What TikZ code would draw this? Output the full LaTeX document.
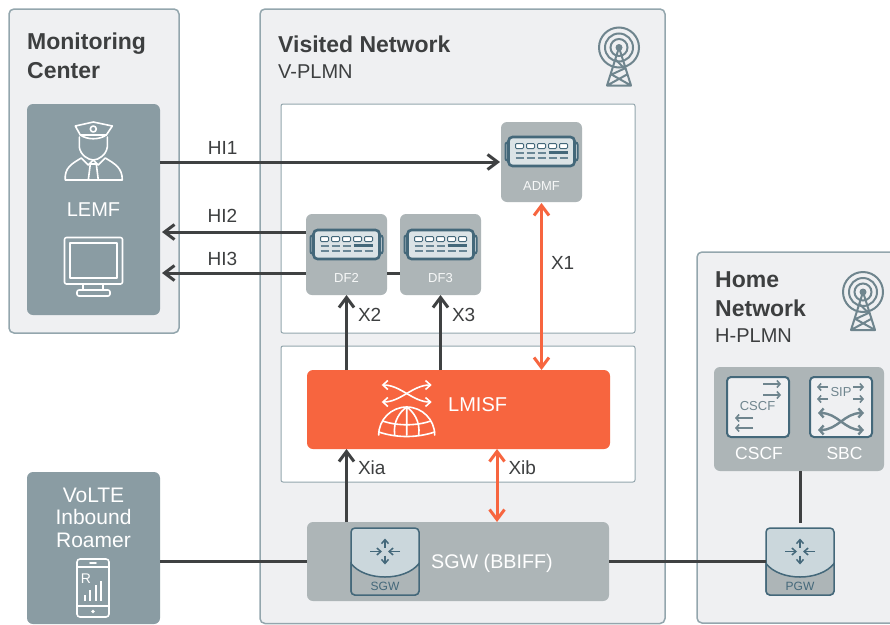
\documentclass[tikz,border=0pt]{standalone}
\usepackage{fontspec}
\setmainfont{Liberation Sans}
\usetikzlibrary{arrows.meta, positioning, calc}

\definecolor{panelgray}{HTML}{EFF0F2}
\definecolor{edgegray}{HTML}{93A6AD}
\definecolor{slategray}{HTML}{8A9CA3}
\definecolor{boxgray}{HTML}{ADB5B7}
\definecolor{linkdark}{HTML}{3F4142}
\definecolor{linkred}{HTML}{F7653F}
\definecolor{icondark}{HTML}{44687A}
\definecolor{iconlight}{HTML}{CBD7DC}
\definecolor{textdark}{HTML}{3D3F40}
\definecolor{towergray}{HTML}{6F858E}

\begin{document}
\begin{tikzpicture}[
  x=1pt, y=-1pt,
  panel/.style  = {draw=edgegray, line width=1.5pt, fill=panelgray, rounded corners=5pt, inner sep=0pt, outer sep=0pt},
  inbox/.style  = {draw=edgegray, line width=1pt, fill=white, rounded corners=2pt, inner sep=0pt, outer sep=0pt},
  block/.style  = {rounded corners=6pt, inner sep=0pt, outer sep=0pt, text=white, align=center},
  head/.style   = {font=\fontsize{23}{29}\selectfont\bfseries, text=textdark, align=left, inner sep=0pt, anchor=north west},
  subhead/.style= {font=\fontsize{20}{22}\selectfont, text=textdark, inner sep=0pt, anchor=north west},
  lbl/.style    = {font=\fontsize{19}{22}\selectfont, text=textdark, inner sep=0pt},
  whitelbl/.style = {font=\fontsize{20}{22.5}\selectfont, text=white, inner sep=0pt, align=center},
  tiny/.style   = {font=\fontsize{13}{15}\selectfont, text=white!90!boxgray, inner sep=0pt},
  link/.style   = {line width=3pt, draw=linkdark},
  arrow/.style  = {link, -{Straight Barb[length=10pt,width=15pt]}},
  redarrow/.style = {line width=3pt, draw=linkred, {Straight Barb[length=10pt,width=15pt]}-{Straight Barb[length=10pt,width=15pt]}},
  thin white/.style = {draw=white, line width=1.6pt, line join=round, line cap=round},
  pics/tower/.style = {code={
    \draw[towergray, line width=2pt] (0,0) circle[radius=20] (0,0) circle[radius=14] (0,0) circle[radius=8.5];
    \fill[towergray] (0,0) circle[radius=3.5];
    \draw[towergray, line width=2pt, line join=round] (0,0) -- (-12,38) -- (12,38) -- cycle
      (-3.5,12) -- (5.5,21) -- (-7.5,27) -- (12,38) (-12,38) -- (8,27);
  }},
  pics/server/.style = {code={
    \draw[icondark, line width=2pt, fill=panelgray, rounded corners=2pt] (-36,-9) rectangle (36,9);
    \draw[icondark, line width=2.6pt, fill=iconlight!70!white, rounded corners=4pt] (-33,-14.5) rectangle (33,14.5);
    \foreach \i in {-22,-11,0,11,22} {
      \draw[icondark, line width=1pt, fill=white, rounded corners=1pt] (\i-4,-8) rectangle (\i+4,-3);
      \draw[icondark!80!white, line width=2pt] (\i-4,1) -- (\i+4,1) (\i-4,6.5) -- (\i+4,6.5);
    }
    \draw[icondark, line width=2.2pt] (7,1) -- (26,1);
  }},
  pics/gateway/.style = {code={
    \draw[icondark, line width=1.5pt, fill=iconlight, rounded corners=4pt] (-34,-33.5) rectangle (34,33.5);
    \draw[icondark, line width=1.5pt, fill=boxgray] (-34,2) .. controls (-20,20) and (20,20) .. (34,2)
      [rounded corners=4pt] -- (34,33.5) -- (-34,33.5) [sharp corners] -- cycle;
    \draw[icondark, line width=1.5pt, -{Straight Barb[length=4pt,width=7pt]}] (0,-14) -- (0,-23);
    \draw[icondark, line width=1.5pt, -{Straight Barb[length=4pt,width=7pt]}] (0,-6) -- (0,3);
    \draw[icondark, line width=1.5pt, -{Straight Barb[length=4pt,width=7pt]}] (-15,-10) -- (-3,-10);
    \draw[icondark, line width=1.5pt, -{Straight Barb[length=4pt,width=7pt]}] (15,-10) -- (3,-10);
    \node[font=\fontsize{12}{14}\selectfont, text=icondark, inner sep=0pt] at (0,25) {#1};
  }}
]
  \clip (0,0) rectangle (890,624);

  % Monitoring center side
  \node[panel, minimum width=170pt, minimum height=324pt] (monitor) at (94,171) {};
  \node[head] (monitortitle) at (27,32.5) {Monitoring\\Center};
  \node[block, fill=slategray, minimum width=133pt, minimum height=211pt] (lemf) at (93.5,209.5) {};
  \node[whitelbl] (lemflabel) at (93.5,210) {LEMF};

  % officer icon
  \begin{scope}[shift={(93.3,150)}]
    \draw[thin white] (-18,-24) -- (0,-28) -- (19,-24) -- (13,-15) -- (-13,-15) -- cycle;
    \draw[thin white] (-13,-15) .. controls (-6,-10) and (6,-10) .. (13,-15);
    \draw[thin white] (0,-21) circle[radius=3];
    \draw[thin white] (-14,-13) -- (-14,-3) .. controls (-13,5) and (-5,10) .. (0,10) .. controls (5,10) and (13,5) .. (14,-3) -- (14,-13);
    \draw[thin white] (-28,30) .. controls (-29,18) and (-22,14) .. (-12,8) -- (-5,15) -- (0,10) -- (5,15) -- (12,8) .. controls (22,14) and (29,18) .. (29,30) -- cycle;
    \draw[thin white] (-3,14) -- (-5,30) (3,14) -- (5,30) (-3,14) -- (3,14);
  \end{scope}

  % monitor icon
  \draw[thin white, rounded corners=2pt] (64.5,237.5) rectangle (122.5,284);
  \draw[thin white] (70,243) rectangle (117,278);
  \draw[thin white] (83,284) -- (83,290) (103,284) -- (103,290);
  \draw[thin white, rounded corners=2pt] (77,290) rectangle (110,296);

  % Roamer box
  \node[block, fill=slategray, minimum width=133pt, minimum height=152pt] (roamer) at (93.5,548) {};
  \node[whitelbl, font=\fontsize{21}{22.5}\selectfont] (roamerlabel) at (93.5,517.5) {VoLTE\\Inbound\\Roamer};
  \draw[thin white, rounded corners=3pt] (77,559) rectangle (109,617);
  \draw[thin white] (77,567) -- (109,567) (77,606) -- (109,606) (90,563) -- (96,563);
  \fill[white] (93,611.5) circle[radius=1.8];
  \node[font=\fontsize{14}{16}\selectfont, text=white, inner sep=0pt] (roamerR) at (86,579) {R};
  \draw[white, line width=1.5pt] (85,601) -- (85,595) (90,601) -- (90,590) (96,601) -- (96,585) (101,601) -- (101,581);

  % Visited network
  \node[panel, minimum width=405pt, minimum height=614.5pt] (visited) at (462.5,316.25) {};
  \node[head] (visitedtitle) at (278,36) {Visited Network};
  \node[subhead] (visitedsub) at (278,64.5) {V-PLMN};
  \pic at (619,47.5) {tower};
  \node[inbox, minimum width=354pt, minimum height=229pt] (lawful) at (458,218.5) {};
  \node[inbox, minimum width=354pt, minimum height=136pt] (core) at (458,414) {};

  % Functions
  \node[block, fill=boxgray, minimum width=81pt, minimum height=80pt] (admf) at (541.5,162) {};
  \pic at (541.5,151.5) {server};
  \node[tiny] (admflabel) at (541.5,186) {ADMF};
  \node[block, fill=boxgray, minimum width=81pt, minimum height=81pt] (df2) at (346.5,254.5) {};
  \pic at (346.5,244.5) {server};
  \node[tiny] (df2label) at (346.5,278) {DF2};
  \node[block, fill=boxgray, minimum width=81pt, minimum height=81pt, right=13pt of df2] (df3) {};
  \pic at (440.5,244.5) {server};
  \node[tiny] (df3label) at (440.5,278) {DF3};

  % LMISF
  \node[block, fill=linkred, minimum width=303pt, minimum height=79pt] (lmisf) at (458.5,409.5) {};
  \node[whitelbl, anchor=west] (lmisflabel) at (448,404.5) {LMISF};
  \begin{scope}[shift={(406.7,435)}]
    \draw[thin white] (-28,0) arc[start angle=180, end angle=360, radius=28];
    \draw[thin white] (0,-28) -- (0,0) (-12,0) .. controls (-14,-14) and (-6,-24) .. (0,-28) .. controls (6,-24) and (14,-14) .. (12,0);
    \draw[thin white] (-24,-14) .. controls (-10,-9) and (10,-9) .. (24,-14) (-28,-3) .. controls (-10,3) and (10,3) .. (28,-3);
    \draw[thin white, {Straight Barb[length=5pt,width=9pt]}-{Straight Barb[length=5pt,width=9pt]}] (-25,-50) .. controls (-6,-50) and (6,-33) .. (25,-33);
    \draw[thin white, {Straight Barb[length=5pt,width=9pt]}-{Straight Barb[length=5pt,width=9pt]}] (-25,-33) .. controls (-6,-33) and (6,-50) .. (25,-50);
  \end{scope}

  % SGW
  \node[block, fill=boxgray, minimum width=302pt, minimum height=79pt] (sgw) at (458,561.5) {};
  \pic at (385,561.5) {gateway=SGW};
  \node[whitelbl, anchor=west, font=\fontsize{19.7}{22}\selectfont] (sgwlabel) at (431,563) {SGW (BBIFF)};

  % Home network
  \node[panel, minimum width=220pt, minimum height=371pt] (home) at (807,437.5) {};
  \node[head] (hometitle) at (715,271.5) {Home\\Network};
  \node[subhead] (homesub) at (715,328.5) {H-PLMN};
  \pic at (863,292) {tower};
  \node[block, fill=boxgray, minimum width=170pt, minimum height=104pt] (ims) at (799,419) {};

  % CSCF icon
  \node[draw=icondark, line width=2pt, fill=panelgray, rounded corners=4pt, minimum width=62pt, minimum height=60pt, inner sep=0pt] (cscf) at (758,407) {};
  \foreach \y in {384,395} \draw[towergray, line width=1.6pt, -{Straight Barb[length=3pt,width=7pt]}] (763,\y) -- (781,\y);
  \foreach \y in {418,428} \draw[towergray, line width=1.6pt, -{Straight Barb[length=3pt,width=7pt]}] (753,\y) -- (735,\y);
  \node[font=\fontsize{13}{15}\selectfont, text=towergray, inner sep=0pt] (cscfinner) at (757.5,406) {CSCF};
  \node[whitelbl, font=\fontsize{17.5}{20}\selectfont] (cscflabel) at (759,453) {CSCF};

  % SBC icon
  \node[draw=icondark, line width=2pt, fill=panelgray, rounded corners=4pt, minimum width=62pt, minimum height=60pt, inner sep=0pt] (sbc) at (841,407) {};
  \foreach \y in {387,399} {
    \draw[towergray, line width=1.6pt, -{Straight Barb[length=3pt,width=7pt]}] (828,\y) -- (817,\y);
    \draw[towergray, line width=1.6pt, -{Straight Barb[length=3pt,width=7pt]}] (853,\y) -- (864,\y);
  }
  \node[font=\fontsize{13}{15}\selectfont, text=towergray, inner sep=0pt] (sipinner) at (841,392.5) {SIP};
  \draw[towergray, line width=2.4pt, {Straight Barb[length=4pt,width=9pt]}-{Straight Barb[length=4pt,width=9pt]}] (818,413) .. controls (838,413) and (844,430) .. (864,430);
  \draw[towergray, line width=2.4pt, {Straight Barb[length=4pt,width=9pt]}-{Straight Barb[length=4pt,width=9pt]}] (818,430) .. controls (838,430) and (844,413) .. (864,413);
  \node[whitelbl, font=\fontsize{17.5}{20}\selectfont] (sbclabel) at (844.5,453) {SBC};

  % PGW
  \node[inner sep=0pt, minimum width=68pt, minimum height=67pt] (pgw) at (800,561.5) {};
  \pic at (800,561.5) {gateway=PGW};

  % HI links to the monitoring center
  \draw[arrow] (admf.west -| lemf.east) -- node[lbl, above=6pt, pos=.184] (hi1) {HI1} ([xshift=-1pt]admf.west);
  \draw[arrow] ([yshift=22.5pt]df2.west) -- node[lbl, above=8pt, pos=.58] (hi2) {HI2} ([xshift=2pt, yshift=22.5pt]df2.west -| lemf.east);
  \draw[arrow] ([yshift=-18.5pt]df2.west) -- node[lbl, above=6pt, pos=.58] (hi3) {HI3} ([xshift=2pt, yshift=-18.5pt]df2.west -| lemf.east);
  \draw[link] ([yshift=-18.5pt]df3.west) -- ([yshift=-18.5pt]df2.east);

  % X links
  \draw[redarrow] ([yshift=-1pt]admf.south) -- node[lbl, right=8pt, pos=.36] (x1) {X1} (admf.south |- lmisf.north);
  \draw[arrow] (df2.south |- lmisf.north) -- node[lbl, right=10pt, pos=.74] (x2) {X2} (df2.south);
  \draw[arrow] (df3.south |- lmisf.north) -- node[lbl, right=10pt, pos=.74] (x3) {X3} (df3.south);
  \draw[arrow] (df2.south |- sgw.north) -- node[lbl, right=10pt, pos=.74] (xia) {Xia} (df2.south |- lmisf.south);
  \draw[redarrow] (497,0 |- lmisf.south) -- node[lbl, right=10pt, pos=.26] (xib) {Xib} (497,0 |- sgw.north);

  % user plane
  \draw[link] (roamer.east |- sgw.west) -- (sgw.west);
  \draw[link] (sgw.east) -- (pgw.west);
  \draw[link, shorten >=5pt] (pgw.north |- ims.south) -- (pgw.north);

\end{tikzpicture}
\end{document}
